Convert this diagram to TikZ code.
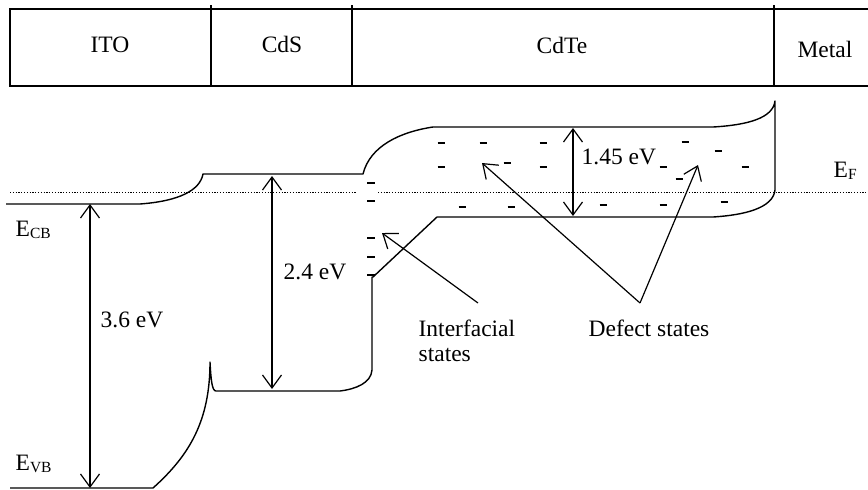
\documentclass[tikz,border=0pt]{standalone}
\usepackage{fontspec}
\setmainfont{Liberation Serif}
\usetikzlibrary{arrows.meta}
\newcommand{\lblsub}[2]{#1\raisebox{-0.12em}{\fontsize{15.5}{15.5}\selectfont #2}}
\begin{document}
\begin{tikzpicture}[x=1pt,y=-1pt,
  line width=1.3pt,
  lbl/.style={inner sep=0pt,font=\fontsize{23.5}{28}\selectfont},
  band/.style={line width=1.4pt,line join=round},
  gap/.style={line width=1.2pt,{Straight Barb[length=13pt,width=19pt]}-{Straight Barb[length=13pt,width=19pt]}},
  pointer/.style={line width=1.2pt,-{Straight Barb[length=13pt,width=19pt]}},
  fermi/.style={line width=0.8pt,dash pattern=on 1.2pt off 1.6pt},
  trap/.style={line width=1.6pt}]
\useasboundingbox (0,0) rectangle (868,490);
% top layer strip
\draw[line width=1.5pt] (868,9) -- (10,9) -- (10,86) -- (868,86);
\draw[line width=1.3pt] (211,5) -- (211,86);
\draw[line width=1.3pt] (352,5) -- (352,86);
\draw[line width=1.3pt] (774,5) -- (774,86);
\node[lbl,anchor=base] (ito) at (110,52) {ITO};
\node[lbl,anchor=base] (cds) at (282,52) {CdS};
\node[lbl,anchor=base] (cdte) at (562,53) {CdTe};
\node[lbl,anchor=base] (metal) at (825,57) {Metal};
% Fermi level
\draw[fermi] (10,192) -- (357,192);
\draw[fermi] (378,192) -- (868,192);
% band edges
\draw[band] (6,204) -- (140,204) .. controls (180,201) and (200,190) .. (203,174)
  -- (363,174) .. controls (370,146) and (400,132) .. (433,127)
  -- (713,127) .. controls (748,125) and (773,118) .. (775,101)
  -- (775,190) .. controls (773,208) and (745,215) .. (713,217)
  -- (437,217) -- (373,277) -- (372,277) -- (372,370)
  .. controls (371,383) and (356,389) .. (340,391) -- (216,391)
  .. controls (212,391) and (211,380) .. (210,362)
  .. controls (210,420) and (190,455) .. (153,488) -- (10,488);
% interfacial states
\foreach \yy in {183,201,238,257,275} \draw[trap] (367,\yy) -- (375,\yy);
% defect states
\foreach \xx/\yy in {441/143,483/143,543/143,441/167,507/163,543/167,462/207,511/207,603/205,663/205,685/142,718/151,663/167,745/167,679/179,724/202}
  \draw[trap] (\xx-3.5,\yy) -- (\xx+3.5,\yy);
% gap arrows
\coordinate (itoCB) at (90,204);
\coordinate (itoVB) at (90,488);
\coordinate (cdsCB) at (272,176);
\coordinate (cdsVB) at (272,389);
\coordinate (cdteCB) at (573,128);
\coordinate (cdteVB) at (573,216);
\draw[gap] (itoCB) -- (itoVB);
\draw[gap] (cdsCB) -- (cdsVB);
\draw[gap] (cdteCB) -- (cdteVB);
\node[lbl,anchor=base west] (g1) at (100,327) {3.6 eV};
\node[lbl,anchor=base west] (g2) at (283,279) {2.4 eV};
\node[lbl,anchor=base west] (g3) at (581,164) {1.45 eV};
% level labels
\node[lbl,anchor=base west] (ecb) at (15,236) {\lblsub{E}{CB}};
\node[lbl,anchor=base west] (evb) at (15,470) {\lblsub{E}{VB}};
\node[lbl,anchor=base west] (ef) at (833,177) {\lblsub{E}{F}};
% pointers
\node[lbl,anchor=base west] (intf) at (418,336) {Interfacial};
\node[lbl,anchor=base west] (intf2) at (418,361) {states};
\node[lbl,anchor=base west] (defl) at (588,336) {Defect states};
\coordinate (intfTail) at (478,303);
\coordinate (intfHead) at (382,233);
\coordinate (defTail) at (640,303);
\coordinate (defHeadA) at (482,163);
\coordinate (defHeadB) at (698,165);
\draw[pointer] (intfTail) -- (intfHead);
\draw[pointer] (defTail) -- (defHeadA);
\draw[pointer] (defTail) -- (defHeadB);
\end{tikzpicture}
\end{document}
